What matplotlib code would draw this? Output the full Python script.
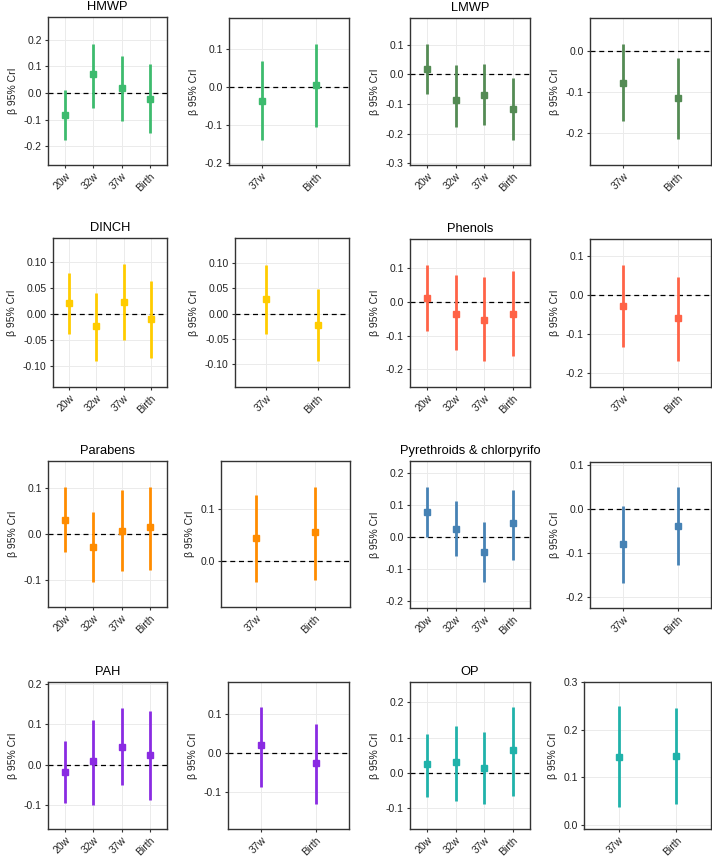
import matplotlib
matplotlib.use("Agg")
import matplotlib.pyplot as plt

plt.rcParams['font.family'] = ['Liberation Sans', 'DejaVu Sans']

# exposure windows
weeks4 = ["20w", "32w", "37w", "Birth"]
weeks2 = ["37w", "Birth"]

groups = ["HMWP", "LMWP", "DINCH", "Phenols", "Parabens",
          "Pyrethroids & chlorpyrifo", "PAH", "OP"]
colors = ["#3DBB6E", "#548B54", "#FFCC00", "#FF6347",
          "#FF8C00", "#4682B4", "#8A2BE2", "#20B2AA"]

# left panels (4 windows): estimate, lower, upper
hmwp_est = [-0.083, 0.070, 0.020, -0.022]
hmwp_lo = [-0.175, -0.055, -0.105, -0.150]
hmwp_hi = [0.010, 0.185, 0.140, 0.110]
lmwp_est = [0.019, -0.087, -0.070, -0.118]
lmwp_lo = [-0.068, -0.177, -0.172, -0.222]
lmwp_hi = [0.103, 0.033, 0.036, -0.011]
dinch_est = [0.021, -0.022, 0.023, -0.009]
dinch_lo = [-0.038, -0.089, -0.049, -0.084]
dinch_hi = [0.079, 0.042, 0.096, 0.065]
phen_est = [0.012, -0.034, -0.054, -0.035]
phen_lo = [-0.087, -0.141, -0.176, -0.161]
phen_hi = [0.110, 0.079, 0.074, 0.092]
parab_est = [0.031, -0.029, 0.007, 0.014]
parab_lo = [-0.038, -0.104, -0.079, -0.077]
parab_hi = [0.101, 0.047, 0.094, 0.101]
pyr_est = [0.078, 0.026, -0.045, 0.044]
pyr_lo = [0.000, -0.057, -0.141, -0.071]
pyr_hi = [0.159, 0.113, 0.048, 0.147]
pah_est = [-0.018, 0.008, 0.044, 0.023]
pah_lo = [-0.095, -0.100, -0.050, -0.089]
pah_hi = [0.058, 0.110, 0.141, 0.133]
op_est = [0.025, 0.030, 0.013, 0.064]
op_lo = [-0.070, -0.081, -0.088, -0.065]
op_hi = [0.110, 0.134, 0.117, 0.186]

# right panels (2 windows)
hmwp2_est = [-0.036, 0.005]
hmwp2_lo = [-0.139, -0.104]
hmwp2_hi = [0.069, 0.113]
lmwp2_est = [-0.077, -0.114]
lmwp2_lo = [-0.170, -0.216]
lmwp2_hi = [0.018, -0.017]
dinch2_est = [0.029, -0.022]
dinch2_lo = [-0.040, -0.093]
dinch2_hi = [0.097, 0.048]
phen2_est = [-0.028, -0.059]
phen2_lo = [-0.134, -0.169]
phen2_hi = [0.078, 0.046]
parab2_est = [0.045, 0.056]
parab2_lo = [-0.041, -0.037]
parab2_hi = [0.127, 0.143]
pyr2_est = [-0.080, -0.038]
pyr2_lo = [-0.167, -0.127]
pyr2_hi = [0.006, 0.050]
pah2_est = [0.020, -0.027]
pah2_lo = [-0.088, -0.132]
pah2_hi = [0.118, 0.074]
op2_est = [0.143, 0.145]
op2_lo = [0.038, 0.043]
op2_hi = [0.250, 0.247]

left_data = [(hmwp_est, hmwp_lo, hmwp_hi), (lmwp_est, lmwp_lo, lmwp_hi),
             (dinch_est, dinch_lo, dinch_hi), (phen_est, phen_lo, phen_hi),
             (parab_est, parab_lo, parab_hi), (pyr_est, pyr_lo, pyr_hi),
             (pah_est, pah_lo, pah_hi), (op_est, op_lo, op_hi)]
right_data = [(hmwp2_est, hmwp2_lo, hmwp2_hi), (lmwp2_est, lmwp2_lo, lmwp2_hi),
              (dinch2_est, dinch2_lo, dinch2_hi), (phen2_est, phen2_lo, phen2_hi),
              (parab2_est, parab2_lo, parab2_hi), (pyr2_est, pyr2_lo, pyr2_hi),
              (pah2_est, pah2_lo, pah2_hi), (op2_est, op2_lo, op2_hi)]

# ---- layout (pixel boxes x0, y0, x1, y1) and axis settings ----
W, H = 712, 858
left_box = [(48, 17, 167, 165), (410, 18, 530, 165),
            (53, 238, 167, 387), (410, 239, 530, 387),
            (48, 461, 167, 607), (410, 461, 530, 608),
            (48, 682, 167, 829), (410, 682, 530, 829)]
right_box = [(229, 18, 349, 165), (590, 18, 711, 165),
             (235, 238, 349, 387), (590, 239, 711, 387),
             (221, 461, 350, 607), (590, 462, 711, 608),
             (228, 682, 349, 829), (584, 682, 711, 829)]
left_ylim = [(-0.27, 0.285), (-0.306, 0.19), (-0.14, 0.147), (-0.252, 0.187),
             (-0.157, 0.157), (-0.221, 0.239), (-0.16, 0.205), (-0.16, 0.258)]
right_ylim = [(-0.205, 0.182), (-0.279, 0.082), (-0.145, 0.1495), (-0.236, 0.145),
              (-0.089, 0.193), (-0.224, 0.106), (-0.195, 0.182), (-0.009, 0.301)]
left_ticks = [[-0.2, -0.1, 0.0, 0.1, 0.2], [-0.3, -0.2, -0.1, 0.0, 0.1],
              [-0.10, -0.05, 0.0, 0.05, 0.10], [-0.2, -0.1, 0.0, 0.1],
              [-0.1, 0.0, 0.1], [-0.2, -0.1, 0.0, 0.1, 0.2],
              [-0.1, 0.0, 0.1, 0.2], [-0.1, 0.0, 0.1, 0.2]]
right_ticks = [[-0.2, -0.1, 0.0, 0.1], [-0.2, -0.1, 0.0],
               [-0.10, -0.05, 0.0, 0.05, 0.10], [-0.2, -0.1, 0.0, 0.1],
               [0.0, 0.1], [-0.2, -0.1, 0.0, 0.1],
               [-0.1, 0.0, 0.1], [0.0, 0.1, 0.2, 0.3]]
two_dec = [False, False, True, False, False, False, False, False]
# last OP panel has no reference line
right_zero = [True, True, True, True, True, True, True, False]

fig = plt.figure(figsize=(W / 100, H / 100), dpi=100)


def make_ax(box):
    x0, y0, x1, y1 = box
    return fig.add_axes([x0 / W, 1 - y1 / H, (x1 - x0) / W, (y1 - y0) / H])


def style_ax(ax, labels, ylim, ticks, fmt2, zero=True):
    ax.set_ylim(*ylim)
    ax.set_yticks(ticks)
    ax.set_yticklabels([(f"{t:.2f}" if fmt2 else f"{t:.1f}") for t in ticks])
    ax.set_xticks(range(1, len(labels) + 1))
    ax.set_xticklabels(labels, rotation=45, ha="right", va="top",
                       rotation_mode="anchor")
    ax.set_xlim(0.4, len(labels) + 0.6)
    ax.grid(True, color="#EBEBEB", lw=0.7, zorder=0)
    ax.set_axisbelow(True)
    for s in ax.spines.values():
        s.set_color("#333333")
        s.set_linewidth(1.0)
    ax.tick_params(labelsize=7.5, length=2.5, width=0.8, color="#333333",
                   labelcolor="#222222", pad=2)
    ax.set_ylabel("β 95% CrI", fontsize=7.5, color="#222222", labelpad=4)
    if zero:
        ax.axhline(0, color="black", lw=0.9, ls=(0, (4, 3)), zorder=2)


def draw(ax, data, color):
    est, lo, hi = data
    xs = range(1, len(est) + 1)
    ax.vlines(xs, lo, hi, color=color, lw=2.0, zorder=3)
    ax.plot(xs, est, "s", color=color, ms=5, zorder=4)


for i in range(8):
    ax = make_ax(left_box[i])
    draw(ax, left_data[i], colors[i])
    style_ax(ax, weeks4, left_ylim[i], left_ticks[i], two_dec[i])
    ax.set_title(groups[i], fontsize=9.3, pad=5)

    ax2 = make_ax(right_box[i])
    draw(ax2, right_data[i], colors[i])
    style_ax(ax2, weeks2, right_ylim[i], right_ticks[i], two_dec[i],
             right_zero[i])

fig.savefig("out.png", dpi=100, facecolor="white")
